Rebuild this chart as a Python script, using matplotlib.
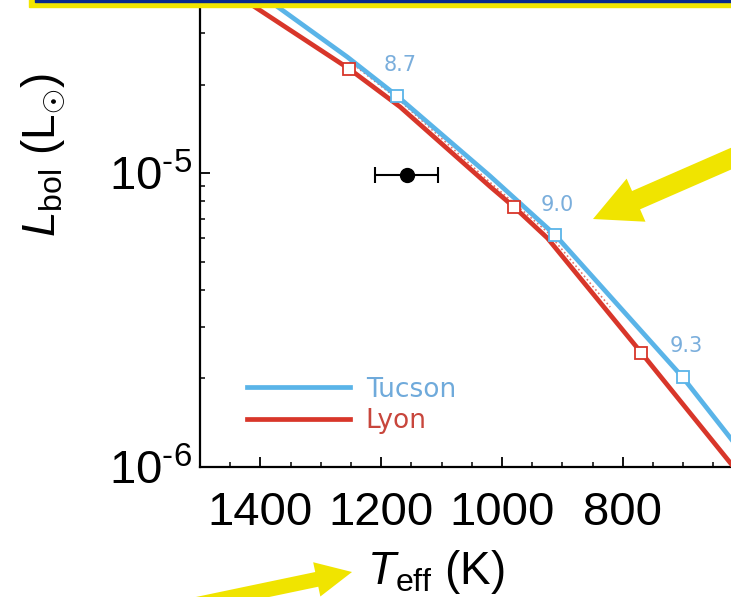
import matplotlib
matplotlib.use('Agg')
import matplotlib.pyplot as plt
from matplotlib.ticker import MultipleLocator, LogLocator, NullFormatter
from matplotlib.patches import FancyArrow, Rectangle

plt.rcParams['mathtext.fontset'] = 'custom'
plt.rcParams['mathtext.rm'] = 'Liberation Sans'
plt.rcParams['mathtext.it'] = 'Liberation Sans:italic'
plt.rcParams['font.family'] = ['Liberation Sans', 'DejaVu Sans']

# evolutionary tracks
tucson_teff = [1371, 1256, 1174, 1020, 912, 701, 620]
tucson_lbol = [3.67e-5, 2.48e-5, 1.83e-5, 9.77e-6, 6.15e-6, 2.02e-6, 1.24e-6]
lyon_teff = [1409, 1253, 1169, 1020, 980, 925, 769, 620]
lyon_lbol = [3.67e-5, 2.26e-5, 1.68e-5, 9.0e-6, 7.66e-6, 6.01e-6, 2.44e-6, 1.02e-6]
lyon_dot_teff = [1252, 1169, 1020, 925, 821]
lyon_dot_lbol = [2.39e-5, 1.76e-5, 9.3e-6, 6.3e-6, 3.5e-6]

# age markers (log age)
tucson_mark_teff = [1174, 912, 701]
tucson_mark_lbol = [1.83e-5, 6.15e-6, 2.02e-6]
lyon_mark_teff = [1253, 980, 770]
lyon_mark_lbol = [2.26e-5, 7.66e-6, 2.44e-6]
age_labels = ['8.7', '9.0', '9.3']
age_label_teff = [1169, 909, 695]
age_label_lbol = [2.33e-5, 7.78e-6, 2.57e-6]

# the object
obj_teff = 1158
obj_teff_err = 52
obj_lbol = 9.85e-6

xticks = [1400, 1200, 1000, 800]
xticklabels = ['1400', '1200', '1000', '800']
yticks = [1e-6, 1e-5]
yticklabels = [r'10$^{\text{-6}}$', r'10$^{\text{-5}}$']

blue = '#5ab4e8'
red = '#d8362a'

W, H = 731, 597
fig = plt.figure(figsize=(W / 100, H / 100), dpi=100)
ax = fig.add_axes([200 / W, 130 / H, 531 / W, 460 / H])

ax.plot(tucson_teff, tucson_lbol, color=blue, lw=3.4, label='Tucson', zorder=3)
ax.plot(lyon_dot_teff, lyon_dot_lbol, color=red, lw=1.2, ls=':', alpha=0.7, zorder=2)
ax.plot(lyon_teff, lyon_lbol, color=red, lw=3.4, label='Lyon', zorder=3)
ax.plot(tucson_mark_teff, tucson_mark_lbol, 's', ms=9, mfc='white', mec=blue, mew=1.3, zorder=4)
ax.plot(lyon_mark_teff, lyon_mark_lbol, 's', ms=9, mfc='white', mec=red, mew=1.3, zorder=4)
for lab, t, l in zip(age_labels, age_label_teff, age_label_lbol):
    ax.text(t, l, lab, color='#7aaedc', fontsize=15, family='DejaVu Sans',
            ha='center', va='center')

ax.errorbar(obj_teff, obj_lbol, xerr=obj_teff_err, fmt='o', color='black',
            ms=10, lw=1.5, capsize=6, capthick=1.5, zorder=5)

ax.set_yscale('log')
ax.set_xlim(1500, 621)
ax.set_ylim(1e-6, 3.67e-5)
ax.set_xticks(xticks)
ax.set_xticklabels(xticklabels)
ax.xaxis.set_minor_locator(MultipleLocator(50))
ax.set_yticks(yticks)
ax.set_yticklabels(yticklabels)
ax.yaxis.set_minor_locator(LogLocator(base=10, subs=range(2, 10)))
ax.yaxis.set_minor_formatter(NullFormatter())
ax.tick_params(which='major', direction='in', length=7, width=1.3, labelsize=34)
ax.tick_params(which='minor', direction='in', length=3.6, width=1.1)
ax.tick_params(axis='x', pad=17)
ax.tick_params(axis='y', pad=6)
for s in ['top', 'right']:
    ax.spines[s].set_visible(False)
for s in ['left', 'bottom']:
    ax.spines[s].set_linewidth(1.6)

ax.set_xlabel(r'$T_{\mathregular{eff}}$ (K)', fontsize=33)
ax.xaxis.set_label_coords(0.444, -0.175)
ax.set_ylabel(r'$L_{\mathregular{bol}}$ (L$_{\odot}$)', fontsize=33)
ax.yaxis.set_label_coords(-0.25, 0.678)

leg = ax.legend(loc='center left', bbox_to_anchor=(0.0885, 0.134), frameon=False,
                handlelength=3.9, handletextpad=0.6, labelspacing=0.2,
                borderpad=0, borderaxespad=0, prop={'family': 'DejaVu Sans', 'size': 19})
leg.get_texts()[0].set_color('#6faadb')
leg.get_texts()[1].set_color('#c8463c')

# slide decorations: box edge at top and yellow arrows
tr = fig.dpi_scale_trans
fig.add_artist(Rectangle((29 / 100, (H - 7.3) / 100), 8, 0.1, transform=tr,
                         color='#f2e600', zorder=10))
fig.add_artist(Rectangle((35 / 100, (H - 2.0) / 100), 8, 0.1, transform=tr,
                         color='#0a2a8c', zorder=11))
fig.add_artist(FancyArrow(760 / 100, (H - 146) / 100, -167 / 100, -73 / 100,
                          width=0.20, head_width=0.47, head_length=0.47,
                          length_includes_head=True, transform=tr,
                          color='#f0e400', lw=0, zorder=10))
fig.add_artist(FancyArrow(180 / 100, (H - 608) / 100, 172 / 100, 36 / 100,
                          width=0.15, head_width=0.35, head_length=0.36,
                          length_includes_head=True, transform=tr,
                          color='#f0e400', lw=0, zorder=10))

fig.savefig('out.png', dpi=100)
